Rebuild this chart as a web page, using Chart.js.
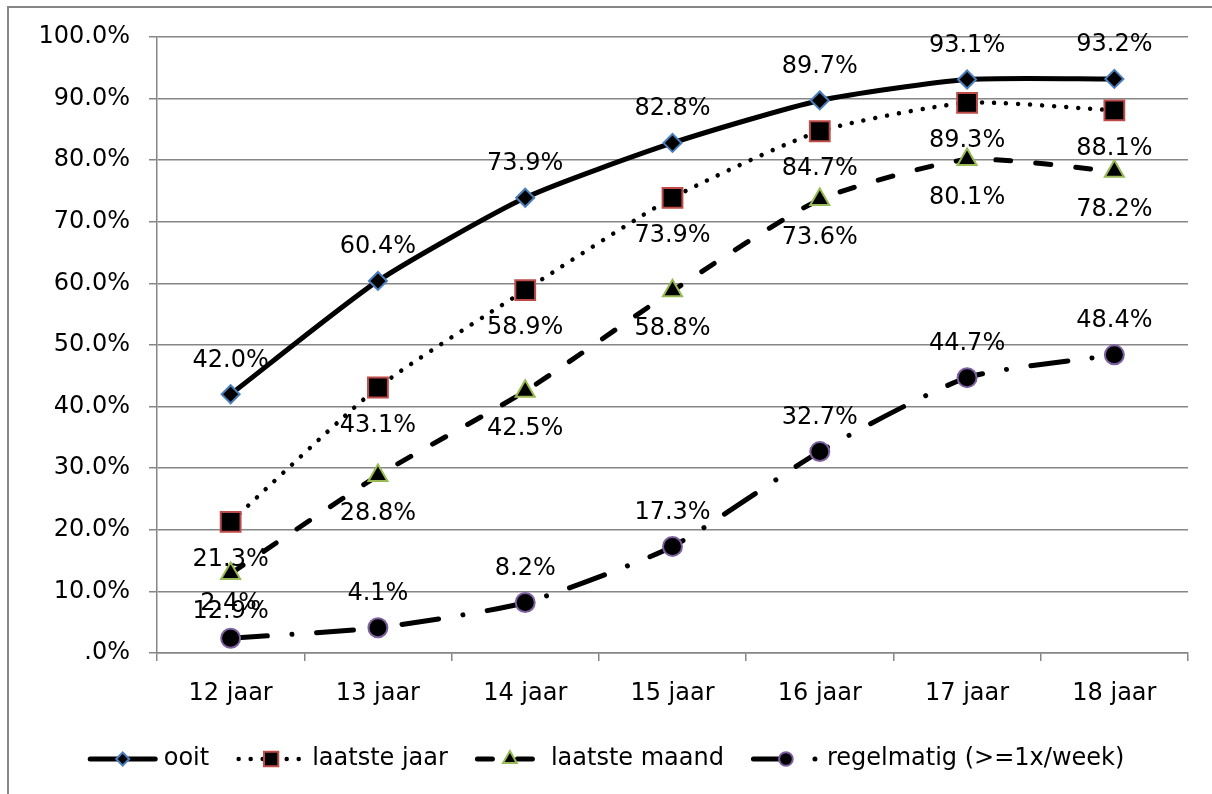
<!doctype html>
<html lang="nl">
<head>
	<title>Gebruik naar leeftijd</title>
	<meta charset="UTF-8">
	<script src="https://cdn.jsdelivr.net/npm/chart.js@4"></script>
	<style>
		html, body { margin: 0; padding: 0; background: #fff; }
		#wrap { width: 1212px; height: 794px; position: relative; }
	</style>
</head>
<body>
	<div id="wrap"><canvas id="chart"></canvas></div>
	<script>
		const categories = ['12 jaar', '13 jaar', '14 jaar', '15 jaar', '16 jaar', '17 jaar', '18 jaar'];
		const ooit = [42.0, 60.4, 73.9, 82.8, 89.7, 93.1, 93.2];
		const laatsteJaar = [21.3, 43.1, 58.9, 73.9, 84.7, 89.3, 88.1];
		const laatsteMaand = [12.9, 28.8, 42.5, 58.8, 73.6, 80.1, 78.2];
		const regelmatig = [2.4, 4.1, 8.2, 17.3, 32.7, 44.7, 48.4];
		const seriesNames = ['ooit', 'laatste jaar', 'laatste maand', 'regelmatig (>=1x/week)'];

		const FONT = '"DejaVu Sans", Verdana, sans-serif';
		const GRID = '#868686';

		Chart.defaults.font.family = FONT;
		Chart.defaults.font.size = 24;
		Chart.defaults.color = '#000';

		// white page + the grey frame (only top and left edge show)
		const frame = {
			id: 'frame',
			beforeDraw(chart) {
				const ctx = chart.ctx;
				ctx.save();
				ctx.fillStyle = '#fff';
				ctx.fillRect(0, 0, chart.width, chart.height);
				ctx.fillStyle = GRID;
				ctx.fillRect(7, 6, chart.width - 7, 2);
				ctx.fillRect(7, 6, 2, chart.height - 6);
				ctx.restore();
			}
		};

		// value labels next to every point
		const pointLabels = {
			id: 'pointLabels',
			afterDatasetsDraw(chart) {
				const ctx = chart.ctx;
				ctx.save();
				ctx.font = '24px ' + FONT;
				ctx.fillStyle = '#000';
				ctx.textAlign = 'center';
				ctx.textBaseline = 'middle';
				chart.data.datasets.forEach((ds, i) => {
					const meta = chart.getDatasetMeta(i);
					const dy = ds.labelPos === 'above' ? -34 : 38;
					meta.data.forEach((pt, j) => {
						ctx.fillText(ds.data[j].toFixed(1) + '%', pt.x, pt.y + dy);
					});
				});
				ctx.restore();
			}
		};

		// legend with line sample + marker, like the spreadsheet one
		const lineLegend = {
			id: 'lineLegend',
			afterDraw(chart) {
				const ctx = chart.ctx;
				const y = 759;
				const sample = 70, textGap = 6, itemGap = 27;
				const sets = chart.data.datasets;
				ctx.save();
				ctx.font = '24px ' + FONT;
				const widths = sets.map(ds => ctx.measureText(ds.label).width);
				const total = widths.reduce((a, b) => a + b, 0) + sets.length * (sample + textGap) + (sets.length - 1) * itemGap;
				let x = chart.width / 2 - total / 2;
				sets.forEach((ds, i) => {
					ctx.save();
					ctx.strokeStyle = ds.borderColor;
					ctx.lineWidth = ds.borderWidth;
					ctx.lineCap = ds.borderCapStyle || 'butt';
					ctx.setLineDash(ds.borderDash || []);
					ctx.beginPath();
					ctx.moveTo(x + 2.5, y);
					ctx.lineTo(x + sample - 2.5, y);
					ctx.stroke();
					ctx.setLineDash([]);
					ctx.fillStyle = ds.pointBackgroundColor;
					ctx.strokeStyle = ds.pointBorderColor;
					ctx.lineWidth = ds.pointBorderWidth;
					Chart.helpers.drawPoint(ctx, {
						pointStyle: ds.pointStyle,
						radius: ds.pointRadius * 0.72,
						rotation: 0,
						borderWidth: ds.pointBorderWidth
					}, x + sample / 2, y);
					ctx.restore();
					ctx.fillStyle = '#000';
					ctx.textAlign = 'left';
					ctx.textBaseline = 'middle';
					ctx.fillText(ds.label, x + sample + textGap, y);
					x += sample + textGap + widths[i] + itemGap;
				});
				ctx.restore();
			}
		};

		const ctx = document.getElementById('chart').getContext('2d');

		const chart = new Chart(ctx, {
			type: 'line',
			data: {
				labels: categories,
				datasets: [
					{
						label: seriesNames[0],
						data: ooit,
						borderColor: '#000',
						borderWidth: 5,
						borderCapStyle: 'round',
						pointStyle: 'rectRot',
						pointRadius: 9,
						pointBackgroundColor: '#000',
						pointBorderColor: '#4a7ebb',
						pointBorderWidth: 2,
						labelPos: 'above',
					},
					{
						label: seriesNames[1],
						data: laatsteJaar,
						borderColor: '#000',
						borderWidth: 4.5,
						borderCapStyle: 'round',
						borderDash: [0.01, 12],
						pointStyle: 'rect',
						pointRadius: 14,
						pointBackgroundColor: '#000',
						pointBorderColor: '#be4b48',
						pointBorderWidth: 2,
						labelPos: 'below',
					},
					{
						label: seriesNames[2],
						data: laatsteMaand,
						borderColor: '#000',
						borderWidth: 5,
						borderCapStyle: 'round',
						borderDash: [15, 25],
						pointStyle: 'triangle',
						pointRadius: 11,
						pointBackgroundColor: '#000',
						pointBorderColor: '#98b954',
						pointBorderWidth: 2,
						labelPos: 'below',
					},
					{
						label: seriesNames[3],
						data: regelmatig,
						borderColor: '#000',
						borderWidth: 5,
						borderCapStyle: 'round',
						borderDash: [37, 24.5, 0.01, 24.5],
						pointStyle: 'circle',
						pointRadius: 9.5,
						pointBackgroundColor: '#000',
						pointBorderColor: '#7d60a0',
						pointBorderWidth: 2,
						labelPos: 'above',
					},
				],
			},
			options: {
				responsive: true,
				maintainAspectRatio: false,
				animation: false,
				events: [],
				tension: 0.2,
				layout: { padding: { left: 0, top: 37, right: 24, bottom: 0 } },
				plugins: {
					legend: { display: false },
					tooltip: { enabled: false },
				},
				scales: {
					x: {
						offset: true,
						grid: {
							offset: true,
							drawOnChartArea: false,
							drawTicks: true,
							tickLength: 8,
							color: GRID,
							lineWidth: 1.5,
						},
						border: { color: GRID, width: 1.5 },
						ticks: { padding: 18, maxRotation: 0 },
						afterFit(scale) { scale.height = 141; },
					},
					y: {
						min: 0,
						max: 100,
						grid: { color: GRID, lineWidth: 1.5, tickLength: 8 },
						border: { color: GRID, width: 1.5 },
						ticks: {
							stepSize: 10,
							padding: 19,
							callback: v => v === 0 ? '.0%' : v.toFixed(1) + '%',
						},
						afterFit(scale) { scale.width = 157; },
					},
				},
			},
			plugins: [frame, pointLabels, lineLegend],
		});
	</script>
</body>
</html>
